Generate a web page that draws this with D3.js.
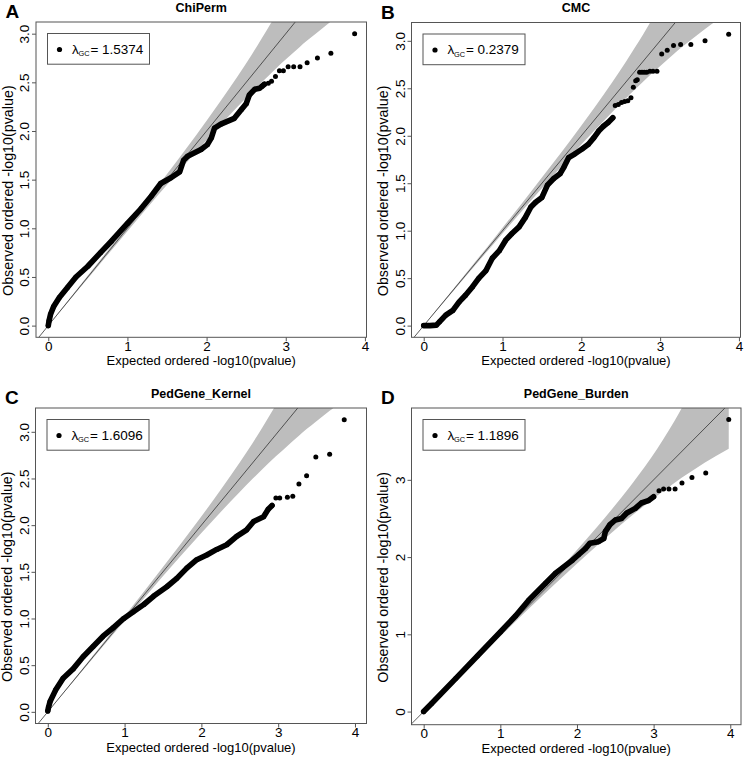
<!DOCTYPE html>
<html><head><meta charset="utf-8">
<script src="https://cdn.jsdelivr.net/npm/d3@7"></script>
<style>
body{margin:0;background:#fff}
svg{display:block}
text{font-family:"Liberation Sans",Arial,Helvetica,sans-serif;fill:#000}
</style>
</head><body>
<svg id="chart" width="745" height="757"></svg>
<script>
// ---------------- data ----------------
const panelLetters = ["A", "B", "C", "D"];
const panelTitles = ["ChiPerm", "CMC", "PedGene_Kernel", "PedGene_Burden"];
const lambdaGC = ["1.5374", "0.2379", "1.6096", "1.1896"];
const xTicks = [0, 1, 2, 3, 4];
const yTicksHalf = [0, 0.5, 1, 1.5, 2, 2.5, 3];
const yTicksInt = [0, 1, 2, 3];

// observed vs expected -log10(p): dense body of points, then separated tail points
const chiPermDense = [[0,0],[0.01,0.05],[0.03,0.12],[0.07,0.2],[0.14,0.29],[0.24,0.39],[0.35,0.5],[0.5,0.61],[0.66,0.75],[0.8,0.87],[1.0,1.05],[1.17,1.2],[1.3,1.33],[1.42,1.46],[1.55,1.52],[1.66,1.58],[1.71,1.7],[1.76,1.74],[1.93,1.81],[2.01,1.86],[2.06,1.93],[2.1,2.03],[2.18,2.07],[2.35,2.13],[2.44,2.22],[2.5,2.28],[2.54,2.37],[2.61,2.43],[2.67,2.44],[2.7,2.46],[2.73,2.48]];
const chiPermTail = [[2.78,2.49],[2.82,2.51],[2.87,2.56],[2.92,2.62],[2.97,2.62],[3.03,2.66],[3.1,2.66],[3.18,2.66],[3.27,2.7],[3.4,2.75],[3.57,2.8],[3.87,3.0]];

const cmcDense = [[0,0],[0.08,0],[0.16,0.005],[0.2,0.04],[0.28,0.11],[0.37,0.16],[0.45,0.25],[0.53,0.32],[0.62,0.41],[0.7,0.5],[0.79,0.58],[0.87,0.71],[0.96,0.79],[1.04,0.9],[1.12,0.97],[1.21,1.04],[1.29,1.14],[1.36,1.25],[1.42,1.3],[1.5,1.35],[1.57,1.48],[1.65,1.55],[1.73,1.6],[1.78,1.67],[1.84,1.77],[1.92,1.81],[2.01,1.86],[2.09,1.91],[2.16,1.98],[2.22,2.05],[2.28,2.1],[2.34,2.14],[2.4,2.19]];
const cmcTail = [[2.43,2.32],[2.47,2.33],[2.51,2.35],[2.55,2.36],[2.59,2.37],[2.63,2.4],[2.66,2.51],[2.69,2.58],[2.71,2.59],[2.74,2.67],[2.77,2.67],[2.8,2.67],[2.83,2.67],[2.87,2.68],[2.91,2.68],[2.96,2.68],[3.02,2.86],[3.09,2.9],[3.17,2.95],[3.26,2.96],[3.39,2.96],[3.57,3.0],[3.87,3.07]];

const kernelDense = [[0,0.01],[0.01,0.05],[0.03,0.11],[0.1,0.23],[0.2,0.36],[0.33,0.46],[0.46,0.59],[0.59,0.7],[0.72,0.81],[0.85,0.9],[0.99,1.0],[1.11,1.07],[1.25,1.15],[1.38,1.24],[1.55,1.34],[1.68,1.43],[1.81,1.54],[1.94,1.63],[2.07,1.68],[2.2,1.74],[2.33,1.79],[2.46,1.88],[2.59,1.95],[2.68,2.04],[2.81,2.09],[2.87,2.17],[2.92,2.21]];
const kernelTail = [[2.97,2.29],[3.02,2.29],[3.12,2.3],[3.19,2.31],[3.27,2.44],[3.37,2.53],[3.49,2.73],[3.67,2.76],[3.86,3.13]];

const burdenDense = [[0,0],[0.1,0.1],[0.42,0.43],[0.7,0.72],[1.0,1.03],[1.2,1.24],[1.37,1.44],[1.59,1.66],[1.72,1.79],[1.81,1.86],[1.94,1.96],[2.02,2.03],[2.11,2.11],[2.17,2.18],[2.28,2.2],[2.35,2.24],[2.37,2.33],[2.43,2.42],[2.5,2.48],[2.58,2.5],[2.65,2.57],[2.76,2.63],[2.84,2.7],[2.93,2.73],[3.0,2.78]];
const burdenTail = [[3.07,2.86],[3.13,2.88],[3.2,2.88],[3.28,2.88],[3.37,2.96],[3.5,3.03],[3.68,3.09],[3.98,3.78]];

// 95% confidence band: expected, lower, upper
const bandAB_x  = [0, 0.39, 0.87, 1.39, 1.87, 2.17, 2.39, 2.57, 2.69, 2.87, 3.02, 3.17, 3.27, 3.39, 3.57, 3.87];
const bandAB_lo = [0, 0.378, 0.845, 1.344, 1.789, 2.057, 2.248, 2.399, 2.495, 2.638, 2.749, 2.859, 2.929, 3.008, 3.125, 3.303];
const bandAB_hi = [0, 0.402, 0.895, 1.442, 1.96, 2.3, 2.561, 2.784, 2.942, 3.189, 3.416, 3.659, 3.835, 4.075, 4.487, 5.467];
const bandCD_x  = [0, 0.49, 0.97, 1.49, 1.97, 2.27, 2.49, 2.67, 2.79, 2.97, 3.12, 3.27, 3.37, 3.49, 3.67, 3.98];
const bandCD_lo = [0, 0.478, 0.945, 1.444, 1.889, 2.157, 2.348, 2.499, 2.595, 2.738, 2.849, 2.959, 3.029, 3.108, 3.225, 3.403];
const bandCD_hi = [0, 0.502, 0.995, 1.542, 2.06, 2.4, 2.661, 2.884, 3.042, 3.289, 3.516, 3.759, 3.935, 4.175, 4.587, 5.567];

// ---------------- layout ----------------
const panels = [
  {box:[36,22,366.5,337.3],   xd:[-0.155,4.02], yd:[-0.12,3.12],  yTicks:yTicksHalf, fmt:d3.format(".1f"), dense:chiPermDense, tail:chiPermTail, bx:bandAB_x, blo:bandAB_lo, bhi:bandAB_hi},
  {box:[411.5,22.5,740.5,337.3], xd:[-0.155,4.02], yd:[-0.123,3.193], yTicks:yTicksHalf, fmt:d3.format(".1f"), dense:cmcDense, tail:cmcTail, bx:bandAB_x, blo:bandAB_lo, bhi:bandAB_hi},
  {box:[35.5,408,366.5,723.5], xd:[-0.16,4.15], yd:[-0.125,3.255], yTicks:yTicksHalf, fmt:d3.format(".1f"), dense:kernelDense, tail:kernelTail, bx:bandCD_x, blo:bandCD_lo, bhi:bandCD_hi},
  {box:[411.5,408,741,724.7],  xd:[-0.159,4.14], yd:[-0.17,3.93],  yTicks:yTicksInt, fmt:d3.format("d"), dense:burdenDense, tail:burdenTail, bx:bandCD_x, blo:bandCD_lo, bhi:bandCD_hi}
];

const svg = d3.select("#chart");
const boxColor = "#555";

panels.forEach((p, k) => {
  const [L, T, R, B] = p.box;
  const x = d3.scaleLinear().domain(p.xd).range([L, R]);
  const y = d3.scaleLinear().domain(p.yd).range([B, T]);
  const g = svg.append("g");

  const clipId = "clip" + k;
  svg.append("clipPath").attr("id", clipId)
    .append("rect").attr("x", L).attr("y", T).attr("width", R - L).attr("height", B - T);
  const inner = g.append("g").attr("clip-path", `url(#${clipId})`);

  // confidence band
  const band = p.bx.map((v, i) => [v, p.blo[i], p.bhi[i]]);
  inner.append("path").datum(band)
    .attr("d", d3.area().x(d => x(d[0])).y0(d => y(d[1])).y1(d => y(d[2])).curve(d3.curveMonotoneX))
    .attr("fill", "#bdbdbd").attr("stroke", "none");

  // identity line
  inner.append("line")
    .attr("x1", x(-1)).attr("y1", y(-1)).attr("x2", x(6)).attr("y2", y(6))
    .attr("stroke", "#333").attr("stroke-width", 0.8);

  // dense body of points
  inner.append("path").datum(p.dense)
    .attr("d", d3.line().x(d => x(d[0])).y(d => y(d[1])))
    .attr("fill", "none").attr("stroke", "#000").attr("stroke-width", 5.6)
    .attr("stroke-linecap", "round").attr("stroke-linejoin", "round");
  inner.selectAll("circle.pt").data(p.dense.concat(p.tail)).join("circle")
    .attr("class", "pt")
    .attr("cx", d => x(d[0])).attr("cy", d => y(d[1])).attr("r", 2.5).attr("fill", "#000");

  // box
  g.append("rect").attr("x", L).attr("y", T).attr("width", R - L).attr("height", B - T)
    .attr("fill", "none").attr("stroke", boxColor).attr("stroke-width", 1);

  // x axis
  const xa = g.append("g").attr("transform", `translate(0,${B})`)
    .call(d3.axisBottom(x).tickValues(xTicks).tickFormat(d3.format("d")).tickSize(4));
  xa.select(".domain").remove();
  xa.selectAll(".tick line").attr("stroke", boxColor);
  xa.selectAll(".tick text").attr("y", 13.4).attr("dy", null)
    .style("font-size", "13.5px").style("font-family", '"Liberation Sans",Arial,sans-serif').attr("fill", "#000");

  // y axis
  const ya = g.append("g").attr("transform", `translate(${L},0)`)
    .call(d3.axisLeft(y).tickValues(p.yTicks).tickFormat(p.fmt).tickSize(4));
  ya.select(".domain").remove();
  ya.selectAll(".tick line").attr("stroke", boxColor);
  ya.selectAll(".tick text").attr("x", null).attr("dy", null)
    .attr("text-anchor", "middle").attr("transform", "translate(-7.0,0) rotate(-90)")
    .style("font-size", "13.5px").style("font-family", '"Liberation Sans",Arial,sans-serif').attr("fill", "#000");

  // titles
  g.append("text").attr("x", (L + R) / 2).attr("y", T - 10.5).attr("text-anchor", "middle")
    .style("font-size", "12.5px").style("font-weight", "bold").text(panelTitles[k]);
  g.append("text").attr("x", L - 30.5).attr("y", T - 4).style("font-size", "19px").style("font-weight", "bold")
    .text(panelLetters[k]);
  g.append("text").attr("x", (L + R) / 2).attr("y", B + 28).attr("text-anchor", "middle")
    .style("font-size", "13px").text("Expected ordered -log10(pvalue)");
  g.append("text").attr("transform", `translate(${L - 23.5},${(T + B) / 2 + 11}) rotate(-90)`).attr("text-anchor", "middle")
    .style("font-size", "14.3px").text("Observed ordered -log10(pvalue)");

  // legend
  const lx = L + 11.5, ly = T + 11.5;
  const lg = g.append("g");
  lg.append("rect").attr("x", lx).attr("y", ly).attr("width", 102).attr("height", 30.7)
    .attr("fill", "#fff").attr("stroke", boxColor).attr("stroke-width", 1);
  lg.append("circle").attr("cx", lx + 12).attr("cy", ly + 16).attr("r", 2.6).attr("fill", "#000");
  lg.append("text").attr("x", lx + 24.4).attr("y", ly + 20).style("font-size", "13.5px").text("λ");
  lg.append("text").attr("x", lx + 31.0).attr("y", ly + 22.5).style("font-size", "7.4px").text("GC");
  lg.append("text").attr("x", lx + 43).attr("y", ly + 20).style("font-size", "13.5px").text("=");
  lg.append("text").attr("x", lx + 54.4).attr("y", ly + 20).style("font-size", "13.5px").text(lambdaGC[k]);
});
</script>
</body></html>
